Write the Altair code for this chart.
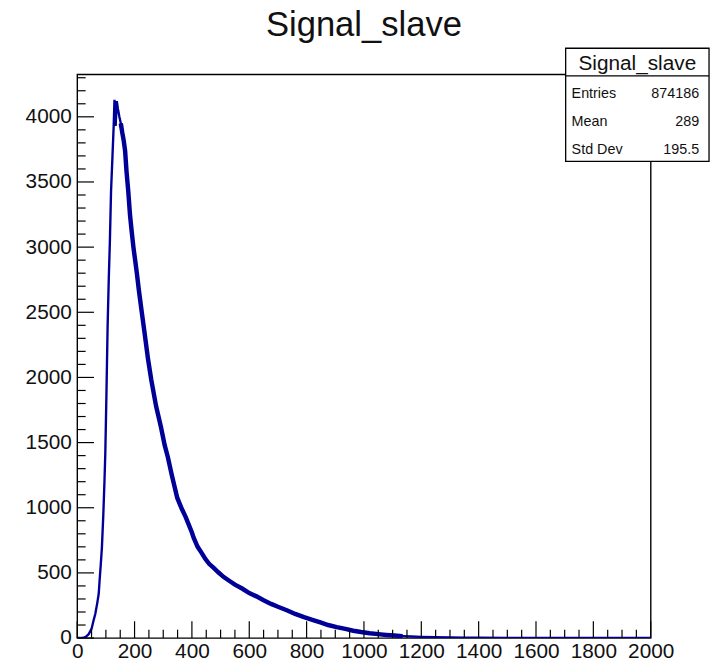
import altair as alt
import pandas as pd

# histogram (bin centre, entries)
hist_x = [0, 10, 20, 25, 30, 40, 50, 57, 63, 70, 75, 78, 82, 86, 91, 95, 98, 102, 106, 110,
          114, 118, 123, 127, 130, 134, 138, 142, 147, 152, 157, 162, 167, 172, 178, 184, 190,
          196, 202, 208, 215, 224, 235, 247, 258, 275, 292, 305, 316, 330, 349, 365, 378, 390,
          400, 406, 412, 420, 435, 446, 460, 475, 492, 510, 530, 550, 575, 600, 625, 650, 676,
          700, 733, 760, 791, 820, 848, 875, 905, 935, 963, 990, 1020, 1050, 1077, 1105, 1135,
          1165, 1200, 1250, 1300, 1350, 1400, 1500, 1600, 1700, 1800, 1900, 2000]
hist_y = [0, 0, 2, 5, 10, 30, 70, 135, 185, 270, 340, 440, 560, 690, 945, 1200, 1420, 1880, 2390, 2750,
          3050, 3430, 3700, 3920, 4130, 3930, 4120, 4060, 4000, 3950, 3880, 3820, 3740, 3580, 3430, 3250, 3120,
          3000, 2900, 2800, 2670, 2520, 2340, 2140, 1985, 1780, 1620, 1480, 1390, 1250, 1075, 990, 930, 865,
          810, 770, 740, 700, 650, 610, 570, 540, 505, 470, 440, 410, 380, 345, 320, 290, 262,
          240, 212, 185, 160, 140, 120, 100, 84, 70, 56, 46, 37, 30, 24, 19, 15,
          12, 9, 6, 4, 3, 2, 1, 0.5, 0, 0, 0, 0]

x_major = [0, 200, 400, 600, 800, 1000, 1200, 1400, 1600, 1800, 2000]
x_minor = [50, 100, 150, 250, 300, 350, 450, 500, 550, 650, 700, 750, 850, 900, 950,
           1050, 1100, 1150, 1250, 1300, 1350, 1450, 1500, 1550, 1650, 1700, 1750,
           1850, 1900, 1950]
y_major = [0, 500, 1000, 1500, 2000, 2500, 3000, 3500, 4000]
y_minor = [100, 200, 300, 400, 600, 700, 800, 900, 1100, 1200, 1300, 1400, 1600, 1700, 1800,
           1900, 2100, 2200, 2300, 2400, 2600, 2700, 2800, 2900, 3100, 3200, 3300, 3400,
           3600, 3700, 3800, 3900, 4100, 4200, 4300]

title_text = "Signal_slave"
stat_names = ["Entries", "Mean", "Std Dev"]
stat_values = ["874186", "289", "195.5"]

W, H = 580, 570
FONT = "Liberation Sans"

xs = alt.Scale(domain=[0, 2000], nice=False, zero=False)
ys = alt.Scale(domain=[0, 4325], nice=False)

x_axis = alt.Axis(values=x_major, ticks=False, domain=False, grid=False, title=None,
                  format="d", labelFlush=False, labelPadding=3, labelFontSize=21,
                  labelFont=FONT, labelColor="#111", labelOverlap=False)
y_axis = alt.Axis(values=y_major, ticks=False, domain=False, grid=False, title=None,
                  format="d", labelPadding=6, labelFontSize=21, labelFont=FONT,
                  labelColor="#111", labelOverlap=False)

hist = pd.DataFrame({"x": hist_x, "y": hist_y})

line = alt.Chart(hist).mark_line(color="#000099", strokeWidth=2.4, clip=True).encode(
    x=alt.X("x:Q", scale=xs, axis=x_axis),
    y=alt.Y("y:Q", scale=ys, axis=y_axis),
)
# the noisy part of the histogram reads as a thicker band
band = alt.Chart(hist).transform_filter(
    (alt.datum.x >= 150) & (alt.datum.x <= 1150)
).mark_line(color="#000099", strokeWidth=4.5, clip=True).encode(
    x=alt.X("x:Q", scale=xs, axis=x_axis),
    y=alt.Y("y:Q", scale=ys, axis=y_axis),
)

def xticks(vals, length):
    return alt.Chart(pd.DataFrame({"v": vals})).mark_rule(color="black", strokeWidth=1.2).encode(
        x=alt.X("v:Q", scale=xs, axis=x_axis), y=alt.value(H), y2=alt.value(H - length))

def yticks(vals, length):
    return alt.Chart(pd.DataFrame({"v": vals})).mark_rule(color="black", strokeWidth=1.2).encode(
        y=alt.Y("v:Q", scale=ys, axis=y_axis), x=alt.value(0), x2=alt.value(length))

one = pd.DataFrame({"a": [0]})

def label(text, x, y, size, align):
    return alt.Chart(one).mark_text(text=text, font=FONT, fontSize=size, align=align,
                                    baseline="alphabetic", color="#111").encode(
        x=alt.value(x), y=alt.value(y))

# main title
main_title = label(title_text, W / 2, -38.5, 35, "center")

# stats box
bx0, bx1, by0, by1, bsep = 494, 639, -26.5, 88, 1.5
box = alt.Chart(one).mark_rect(fill="white", stroke="black", strokeWidth=1.3).encode(
    x=alt.value(bx0), x2=alt.value(bx1), y=alt.value(by0), y2=alt.value(by1))
sep = alt.Chart(one).mark_rule(color="black", strokeWidth=1.3).encode(
    x=alt.value(bx0), x2=alt.value(bx1), y=alt.value(bsep))
box_title = label(title_text, (bx0 + bx1) / 2, -5, 21, "center")

row_y = [23.5, 51.8, 80.2]
stat_layers = []
for n, v, ry in zip(stat_names, stat_values, row_y):
    stat_layers.append(label(n, 500, ry, 14.5, "left"))
    stat_layers.append(label(v, 629, ry, 14.5, "right"))

chart = alt.layer(
    line, band,
    xticks(x_major, 17), xticks(x_minor, 8.5),
    yticks(y_major, 17), yticks(y_minor, 8.5),
    main_title, box, sep, box_title, *stat_layers,
).properties(
    width=W, height=H,
    autosize=alt.AutoSizeParams(type="none"),
    padding={"left": 70, "top": 63.5, "right": 62, "bottom": 21},
).configure(background="white").configure_view(stroke="black", strokeWidth=1.4)

chart.save("out.html", embed_options={"renderer": "svg", "actions": False})
